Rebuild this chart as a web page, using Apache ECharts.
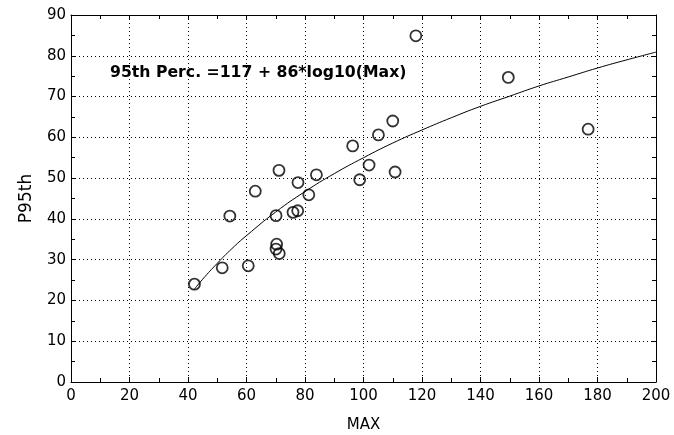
<!DOCTYPE html>
<html>
<head>
<meta charset="utf-8">
<script src="https://cdn.jsdelivr.net/npm/echarts@6/dist/echarts.min.js"></script>
<style>html,body{margin:0;padding:0;background:#fff}#c{width:674px;height:435px}</style>
</head>
<body>
<div id="c"></div>
<script>
const maxValues = [42.2, 51.7, 54.3, 60.6, 63.0, 70.1, 70.3, 70.1, 71.2, 71.1, 75.9, 77.5, 77.6, 81.3, 83.9, 96.3, 98.7, 101.9, 105.1, 110.0, 110.8, 117.9, 149.5, 176.8];
const p95Values = [24.0, 28.0, 40.7, 28.5, 46.8, 40.8, 33.8, 32.6, 31.5, 51.9, 41.6, 42.0, 48.9, 45.9, 50.8, 57.9, 49.6, 53.2, 60.6, 64.0, 51.5, 84.9, 74.7, 62.0];
const fitX = [42, 45, 50, 55, 60, 70, 80, 90, 100, 110, 120, 130, 140, 150, 160, 170, 180, 190, 200];
const fitY = [22.6, 25.2, 29.1, 32.7, 35.9, 41.7, 46.7, 51.1, 55.0, 58.6, 61.8, 64.8, 67.6, 70.1, 72.6, 74.8, 77.0, 79.0, 80.9];
const xTicks = [0, 20, 40, 60, 80, 100, 120, 140, 160, 180, 200];
const yTicks = [0, 10, 20, 30, 40, 50, 60, 70, 80, 90];
const annotation = '95th Perc. =117 + 86*log10(Max)';

const font = '"DejaVu Sans", sans-serif';
const chart = echarts.init(document.getElementById('c'));
const lineStyle = {color: '#000', width: 1};
const dotted = {show: true, lineStyle: {color: '#000', type: [1, 3], width: 1}};
function axisBase(show, margin) {
  return {
    axisLine: {show: true, onZero: false, lineStyle: lineStyle},
    axisTick: {show: true, inside: true, length: 5, lineStyle: lineStyle},
    minorTick: {show: true, splitNumber: 2, length: 4, lineStyle: lineStyle},
    axisLabel: show ? {color: '#000', fontFamily: font, fontSize: 15, margin: margin} : {show: false},
  };
}
chart.setOption({
  animation: false,
  backgroundColor: '#fff',
  grid: {left: 71, right: 18, top: 15, bottom: 53, containLabel: false, outerBoundsMode: 'none'},
  xAxis: [
    Object.assign({type: 'value', min: xTicks[0], max: xTicks[xTicks.length - 1], interval: 20,
      name: 'MAX', nameLocation: 'middle', nameGap: 36,
      nameTextStyle: {color: '#000', fontFamily: font, fontSize: 15},
      splitLine: dotted}, axisBase(true, 7)),
    Object.assign({type: 'value', position: 'top', min: 0, max: 200, interval: 20, splitLine: {show: false}}, axisBase(false))
  ],
  yAxis: [
    Object.assign({type: 'value', min: yTicks[0], max: yTicks[yTicks.length - 1], interval: 10,
      name: 'P95th', nameLocation: 'middle', nameGap: 36,
      nameTextStyle: {color: '#000', fontFamily: font, fontSize: 17},
      splitLine: dotted}, axisBase(true, 5)),
    Object.assign({type: 'value', position: 'right', min: 0, max: 90, interval: 10, splitLine: {show: false}}, axisBase(false))
  ],
  series: [
    {
      type: 'line',
      data: fitX.map((x, i) => [x, fitY[i]]),
      smooth: true,
      showSymbol: false,
      lineStyle: {color: '#000', width: 1},
      z: 2
    },
    {
      type: 'scatter',
      data: maxValues.map((x, i) => [x, p95Values[i]]),
      symbol: 'circle',
      symbolSize: 11,
      itemStyle: {color: 'rgba(255,255,255,0)', borderColor: '#000', borderWidth: 1.8},
      z: 3
    }
  ],
  graphic: [{
    type: 'text',
    left: 110,
    top: 65,
    style: {text: annotation, fill: '#000', font: 'bold 15.7px ' + font}
  }]
});
</script>
</body>
</html>
